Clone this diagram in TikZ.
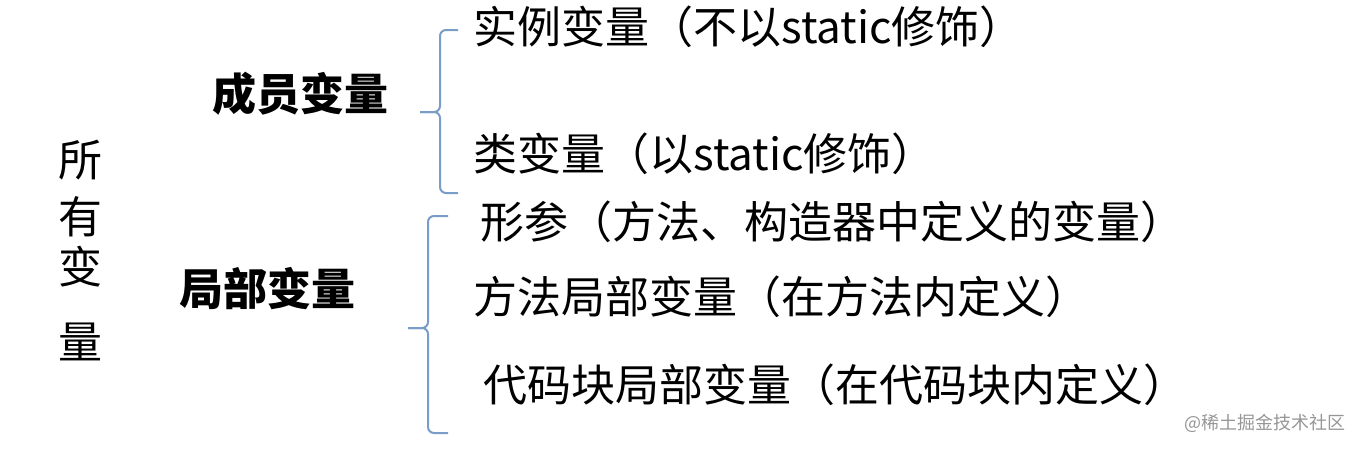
\documentclass[tikz,border=0pt]{standalone}
\usepackage{fontspec}
\setmainfont{Noto Sans CJK SC}
\definecolor{braceblue}{RGB}{122,156,201}
\definecolor{markgray}{RGB}{150,150,150}

\begin{document}
\begin{tikzpicture}[x=0.5pt,y=-0.5pt,
			item/.style={anchor=west,inner sep=0,font=\fontsize{22}{22}\selectfont},
			group/.style={anchor=west,inner sep=0,font=\fontsize{22}{22}\selectfont\bfseries},
			vchar/.style={inner sep=0,font=\fontsize{22}{22}\selectfont},
			bracket/.style={draw=braceblue,line width=1pt,rounded corners=3pt}]
			\useasboundingbox (0,0) rectangle (1362,450);
			\node[vchar] (all1) at (80,160) {所};
			\node[vchar] (all2) at (80,217) {有};
			\node[vchar] (all3) at (80,267) {变};
			\node[vchar] (all4) at (80,342) {量};
			\node[group] (member) at (212,94) {成员变量};
			\node[group] (localvar) at (179,289) {局部变量};
			\node[item] (inst) at (473,27) {实例变量（不以static修饰）};
			\node[item] (cls) at (473,154) {类变量（以static修饰）};
			\node[item] (param) at (480,222) {形参（方法、构造器中定义的变量）};
			\node[item] (meth) at (473,297) {方法局部变量（在方法内定义）};
			\node[item] (block) at (483,385) {代码块局部变量（在代码块内定义）};
			\node[anchor=east,inner sep=0,text=markgray,font=\fontsize{9}{9}\selectfont] (mark) at (1346,423) {@稀土掘金技术社区};
			\coordinate (t1) at (458,30); \coordinate (m1) at (420,112); \coordinate (b1) at (458,193);
			\coordinate (t2) at (448,216); \coordinate (m2) at (408,328); \coordinate (b2) at (448,433);
			\draw[bracket] (t1) -- (t1 -| 440,0) -- (m1 -| 440,0) -- (m1);
			\draw[bracket] (m1) -- (m1 -| 440,0) -- (b1 -| 440,0) -- (b1);
			\draw[bracket] (t2) -- (t2 -| 428,0) -- (m2 -| 428,0) -- (m2);
			\draw[bracket] (m2) -- (m2 -| 428,0) -- (b2 -| 428,0) -- (b2);
		\end{tikzpicture}
\end{document}
